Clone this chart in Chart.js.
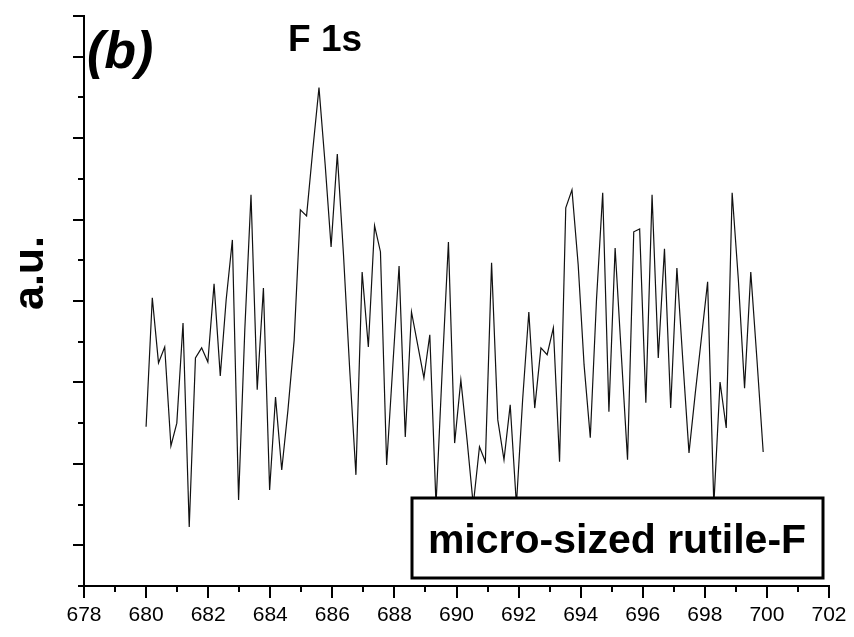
<!DOCTYPE html>
<html lang="en">
<head>
  <meta charset="UTF-8" />
  <title>F 1s - micro-sized rutile-F</title>
  <script src="https://cdn.jsdelivr.net/npm/chart.js"></script>
  <style>
    body { margin: 0; background: #fff; }
    canvas { display: block; }
  </style>
</head>
<body>
  <canvas id="xps" width="854" height="637"></canvas>
  <script>
    // binding energy (eV) of each sample
    const energy = [
      680.00, 680.20, 680.40, 680.60, 680.80, 680.99, 681.19, 681.39, 681.59, 681.79,
      681.99, 682.19, 682.39, 682.58, 682.78, 682.98, 683.18, 683.38, 683.58, 683.78,
      683.98, 684.17, 684.37, 684.57, 684.77, 684.97, 685.17, 685.37, 685.57, 685.77,
      685.96, 686.16, 686.36, 686.56, 686.76, 686.96, 687.16, 687.36, 687.55, 687.75,
      687.95, 688.15, 688.35, 688.55, 688.75, 688.95, 689.14, 689.34, 689.54, 689.74,
      689.94, 690.14, 690.34, 690.54, 690.74, 690.93, 691.13, 691.33, 691.53, 691.73,
      691.93, 692.13, 692.33, 692.52, 692.72, 692.92, 693.12, 693.32, 693.52, 693.72,
      693.92, 694.11, 694.31, 694.51, 694.71, 694.91, 695.11, 695.31, 695.51, 695.71,
      695.90, 696.10, 696.30, 696.50, 696.70, 696.90, 697.10, 697.29, 697.49, 697.69,
      697.89, 698.09, 698.29, 698.49, 698.69, 698.88, 699.08, 699.28, 699.48, 699.68,
      699.88
    ];
    // intensity, arbitrary units
    const intensity = [
      3.91, 7.08, 5.48, 5.87, 3.44, 4.00, 6.46, 1.45, 5.60, 5.85,
      5.50, 7.42, 5.16, 7.03, 8.50, 2.11, 6.29, 9.61, 4.82, 7.32,
      2.36, 4.64, 2.85, 4.32, 6.04, 9.24, 9.09, 10.71, 12.24, 10.34,
      8.33, 10.61, 8.13, 5.31, 2.73, 7.71, 5.87, 8.85, 8.21, 2.97,
      5.43, 7.86, 3.66, 6.73, 5.92, 5.11, 6.17, 1.99, 5.31, 8.45,
      3.51, 5.06, 3.59, 1.99, 3.42, 3.05, 7.94, 4.08, 3.10, 4.45,
      1.99, 4.57, 6.73, 4.37, 5.85, 5.68, 6.34, 3.05, 9.29, 9.73,
      7.89, 5.43, 3.64, 7.03, 9.66, 4.28, 8.30, 5.68, 3.10, 8.70,
      8.77, 4.50, 9.61, 5.60, 8.28, 4.37, 7.81, 5.55, 3.27, 4.72,
      6.09, 7.47, 1.99, 5.01, 3.88, 9.66, 7.52, 4.86, 7.71, 5.55,
      3.29
    ];
    const xTickLabels = [678, 680, 682, 684, 686, 688, 690, 692, 694, 696, 698, 700, 702];
    const xRange = [678, 702];
    const yRange = [0, 14];

    const panelLabel = '(b)';
    const peakLabel = 'F 1s';
    const yTitle = 'a.u.';
    const sampleName = 'micro-sized rutile-F';

    const FONT = "'Liberation Sans', Arial, sans-serif";

    // minor/major tick marks plus the text decorations
    const frame = {
      id: 'frame',
      afterDraw(chart) {
        const { ctx, scales: { x, y } } = chart;
        ctx.save();
        ctx.strokeStyle = '#000';
        ctx.lineWidth = 2;
        ctx.beginPath();
        for (let v = xRange[0]; v <= xRange[1]; v++) {
          const px = Math.round(x.getPixelForValue(v));
          const len = v % 2 === 0 ? 12 : 6;
          ctx.moveTo(px, y.bottom);
          ctx.lineTo(px, y.bottom + len);
        }
        for (let v = yRange[0]; v <= yRange[1]; v++) {
          const py = Math.round(y.getPixelForValue(v));
          const len = (v % 2 === 1 || v === yRange[1]) ? 11 : 6;
          ctx.moveTo(x.left, py);
          ctx.lineTo(x.left - len, py);
        }
        ctx.stroke();

        ctx.fillStyle = '#000';
        ctx.textBaseline = 'alphabetic';

        ctx.font = `italic bold 52px ${FONT}`;
        ctx.textAlign = 'left';
        ctx.fillText(panelLabel, 87, 68);

        ctx.font = `bold 37px ${FONT}`;
        ctx.fillText(peakLabel, 288, 51);

        ctx.save();
        ctx.translate(43, 273);
        ctx.rotate(-Math.PI / 2);
        ctx.font = `bold 43px ${FONT}`;
        ctx.textAlign = 'center';
        ctx.fillText(yTitle, 0, 0);
        ctx.restore();

        // sample name box, drawn over the trace
        ctx.fillStyle = '#fff';
        ctx.fillRect(412, 498, 411, 80);
        ctx.lineWidth = 3;
        ctx.strokeRect(412, 498, 411, 80);
        ctx.fillStyle = '#000';
        ctx.font = `bold 41px ${FONT}`;
        ctx.textAlign = 'center';
        ctx.fillText(sampleName, 617, 553);
        ctx.restore();
      }
    };

    new Chart(document.getElementById('xps'), {
      type: 'line',
      data: {
        datasets: [{
          data: energy.map((e, i) => ({ x: e, y: intensity[i] })),
          borderColor: '#111',
          borderWidth: 1.2,
          pointRadius: 0,
          tension: 0,
          fill: false
        }]
      },
      options: {
        responsive: false,
        animation: false,
        events: [],
        layout: { padding: { top: 16, right: 25, left: 0, bottom: 0 } },
        plugins: { legend: { display: false }, tooltip: { enabled: false } },
        scales: {
          x: {
            type: 'linear',
            min: xRange[0],
            max: xRange[1],
            afterBuildTicks: s => { s.ticks = xTickLabels.map(v => ({ value: v })); },
            afterFit: s => { s.height = 51; },
            grid: { display: false, tickLength: 10 },
            border: { display: true, color: '#000', width: 2 },
            ticks: {
              color: '#000',
              padding: 7,
              maxRotation: 0,
              autoSkip: false,
              font: { family: FONT, size: 21 }
            }
          },
          y: {
            min: yRange[0],
            max: yRange[1],
            afterFit: s => { s.width = 84; },
            grid: { display: false },
            border: { display: true, color: '#000', width: 2 },
            ticks: { display: false }
          }
        }
      },
      plugins: [frame]
    });
  </script>
</body>
</html>
